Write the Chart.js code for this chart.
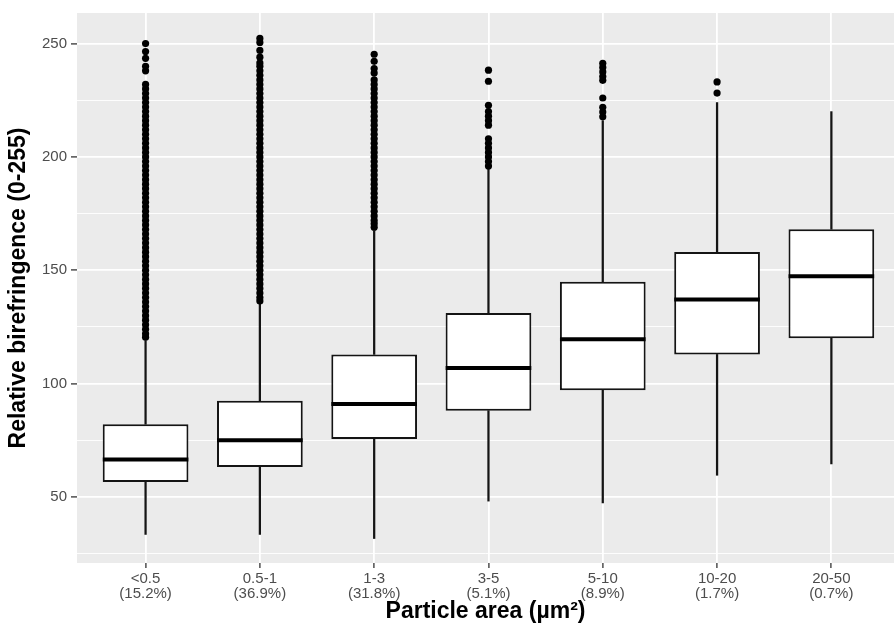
<!DOCTYPE html>
<html>
<head>
<meta charset="utf-8">
<script src="https://cdn.jsdelivr.net/npm/chart.js@4.4.1/dist/chart.umd.min.js"></script>
<style>
html,body{margin:0;padding:0;background:#fff;overflow:hidden}
#wrap{width:894px;height:635px;position:relative}
</style>
</head>
<body>
<div id="wrap"><canvas id="c" width="894" height="635"></canvas></div>
<script>
// ---- data ----
const categories = [['<0.5','(15.2%)'],['0.5-1','(36.9%)'],['1-3','(31.8%)'],['3-5','(5.1%)'],['5-10','(8.9%)'],['10-20','(1.7%)'],['20-50','(0.7%)']];
const whiskerLow  = [33.5, 33.5, 31.7, 48.2, 47.4, 59.6, 64.6];
const q1          = [56.6, 63.2, 75.6, 88.1, 97.1, 112.9, 120.0];
const median      = [66.5, 75.0, 91.0, 106.9, 119.6, 137.1, 147.4];
const q3          = [82.1, 92.5, 112.9, 131.2, 145.0, 158.1, 168.1];
const whiskerHigh = [119, 135, 167.5, 194.5, 216, 224, 220];

const outliersLt05 = [120.5,122,124,126,128,130,132,134,136,138,140,142,144,146,148,150,152,154,156,158,160,162,164,166,168,170,172,174,176,178,180,182,184,186,188,190,192,194,196,198,200,202,204,206,208,210,212,214,216,218,220,222,224,226,228,230,232,238,240,243.5,246.5,250];
const outliers05to1 = [136.5,138,140,142,144,146,148,150,152,154,156,158,160,162,164,166,168,170,172,174,176,178,180,182,184,186,188,190,192,194,196,198,200,202,204,206,208,210,212,214,216,218,220,222,224,226,228,230,232,234,236,238,240,241.5,244,247,250.5,252.3];
const outliers1to3 = [169,170.5,172,174,176,178,180,182,184,186,188,190,192,194,196,198,200,202,204,206,208,210,212,214,216,218,220,222,224,226,228,230,232,234,237,239,242.2,245.3];
const outliers3to5 = [196,198,200,202,204,206,208,214,216,218,220,222.8,233.4,238.3];
const outliers5to10 = [217.7,219.8,221.9,226,233.8,235.5,237.5,239.5,241.3];
const outliers10to20 = [228.2,233.1];
const outliers20to50 = [];
const outlierGroups = [outliersLt05, outliers05to1, outliers1to3, outliers3to5, outliers5to10, outliers10to20, outliers20to50];

const yTicks = [50,100,150,200,250];
const yMinorTicks = [25,75,125,175,225];

// ---- chart ----
const FONT = "'Liberation Sans', Arial, Helvetica, sans-serif";
const BOXCOL = '#141414';

const bgPlugin = {
  id: 'bg',
  beforeDraw(chart) {
    const {ctx, chartArea: a} = chart;
    ctx.save();
    ctx.fillStyle = '#ffffff';
    ctx.fillRect(0, 0, chart.width, chart.height);
    ctx.fillStyle = '#ebebeb';
    ctx.fillRect(a.left, a.top, a.right - a.left, a.bottom - a.top);
    ctx.restore();
  }
};

const outlierData = [];
outlierGroups.forEach((arr, i) => arr.forEach(v => outlierData.push({x: i, y: v})));

new Chart(document.getElementById('c'), {
  type: 'bar',
  data: {
    datasets: [
      {
        type: 'scatter', label: 'outliers', order: 0,
        data: outlierData,
        pointRadius: 3.6, pointHoverRadius: 3.6,
        backgroundColor: '#000', borderWidth: 0
      },
      {
        type: 'scatter', label: 'median', order: 1,
        data: median.map((m, i) => ({x: i, y: m})),
        pointStyle: 'line', pointRadius: 42.8, pointHoverRadius: 42.8,
        borderColor: '#000', borderWidth: 4
      },
      {
        type: 'bar', label: 'box', order: 2,
        data: q1.map((v, i) => ({x: i, y: [v, q3[i]]})),
        backgroundColor: '#ffffff', borderColor: BOXCOL, borderWidth: 2,
        borderSkipped: false, grouped: false,
        barPercentage: 0.75, categoryPercentage: 1.0
      },
      {
        type: 'bar', label: 'lower whisker', order: 3,
        data: whiskerLow.map((v, i) => ({x: i, y: [v, q1[i]]})),
        backgroundColor: BOXCOL, borderWidth: 0, grouped: false, barThickness: 1.6
      },
      {
        type: 'bar', label: 'upper whisker', order: 3,
        data: whiskerHigh.map((v, i) => ({x: i, y: [q3[i], v]})),
        backgroundColor: BOXCOL, borderWidth: 0, grouped: false, barThickness: 1.6
      }
    ]
  },
  options: {
    responsive: false,
    devicePixelRatio: 1,
    animation: false,
    layout: {autoPadding: false, padding: {top: 13, left: 0, right: 0, bottom: 0}},
    plugins: {legend: {display: false}, tooltip: {enabled: false}},
    events: [],
    scales: {
      x: {
        type: 'linear', min: -0.6, max: 6.548, offset: false,
        afterBuildTicks: s => { s.ticks = categories.map((_, i) => ({value: i})); },
        afterFit: s => { s.height = 72; },
        ticks: {
          autoSkip: false, maxRotation: 0, minRotation: 0,
          color: '#4d4d4d', padding: 3,
          font: {family: FONT, size: 15, lineHeight: 1.0},
          callback: v => categories[v]
        },
        grid: {offset: false, color: '#ffffff', lineWidth: 1.8, tickLength: 5, tickColor: '#333333', tickWidth: 1.3},
        border: {display: false},
        title: {
          display: true, text: 'Particle area (µm²)', color: '#000',
          font: {family: FONT, size: 23, weight: 'bold', lineHeight: 1.2},
          padding: {top: 0, bottom: 10}
        }
      },
      y: {
        type: 'linear', min: 20.9, max: 263.5,
        afterBuildTicks: s => { s.ticks = [...yMinorTicks, ...yTicks].sort((a, b) => a - b).map(v => ({value: v})); },
        afterFit: s => { s.width = 77; },
        ticks: {
          autoSkip: false, color: '#4d4d4d', padding: 4,
          font: {family: FONT, size: 15},
          callback: v => yTicks.includes(v) ? String(v) : ''
        },
        grid: {
          color: '#ffffff',
          lineWidth: c => yTicks.includes(c.tick.value) ? 1.8 : 0.9,
          tickLength: 6,
          tickColor: c => yTicks.includes(c.tick.value) ? '#333333' : 'rgba(0,0,0,0)',
          tickWidth: 1.3
        },
        border: {display: false},
        title: {
          display: true, text: 'Relative birefringence (0-255)', color: '#000',
          font: {family: FONT, size: 23, weight: 'bold', lineHeight: 1.2},
          padding: {top: 5, bottom: 0}
        }
      }
    }
  },
  plugins: [bgPlugin]
});
</script>
</body>
</html>
